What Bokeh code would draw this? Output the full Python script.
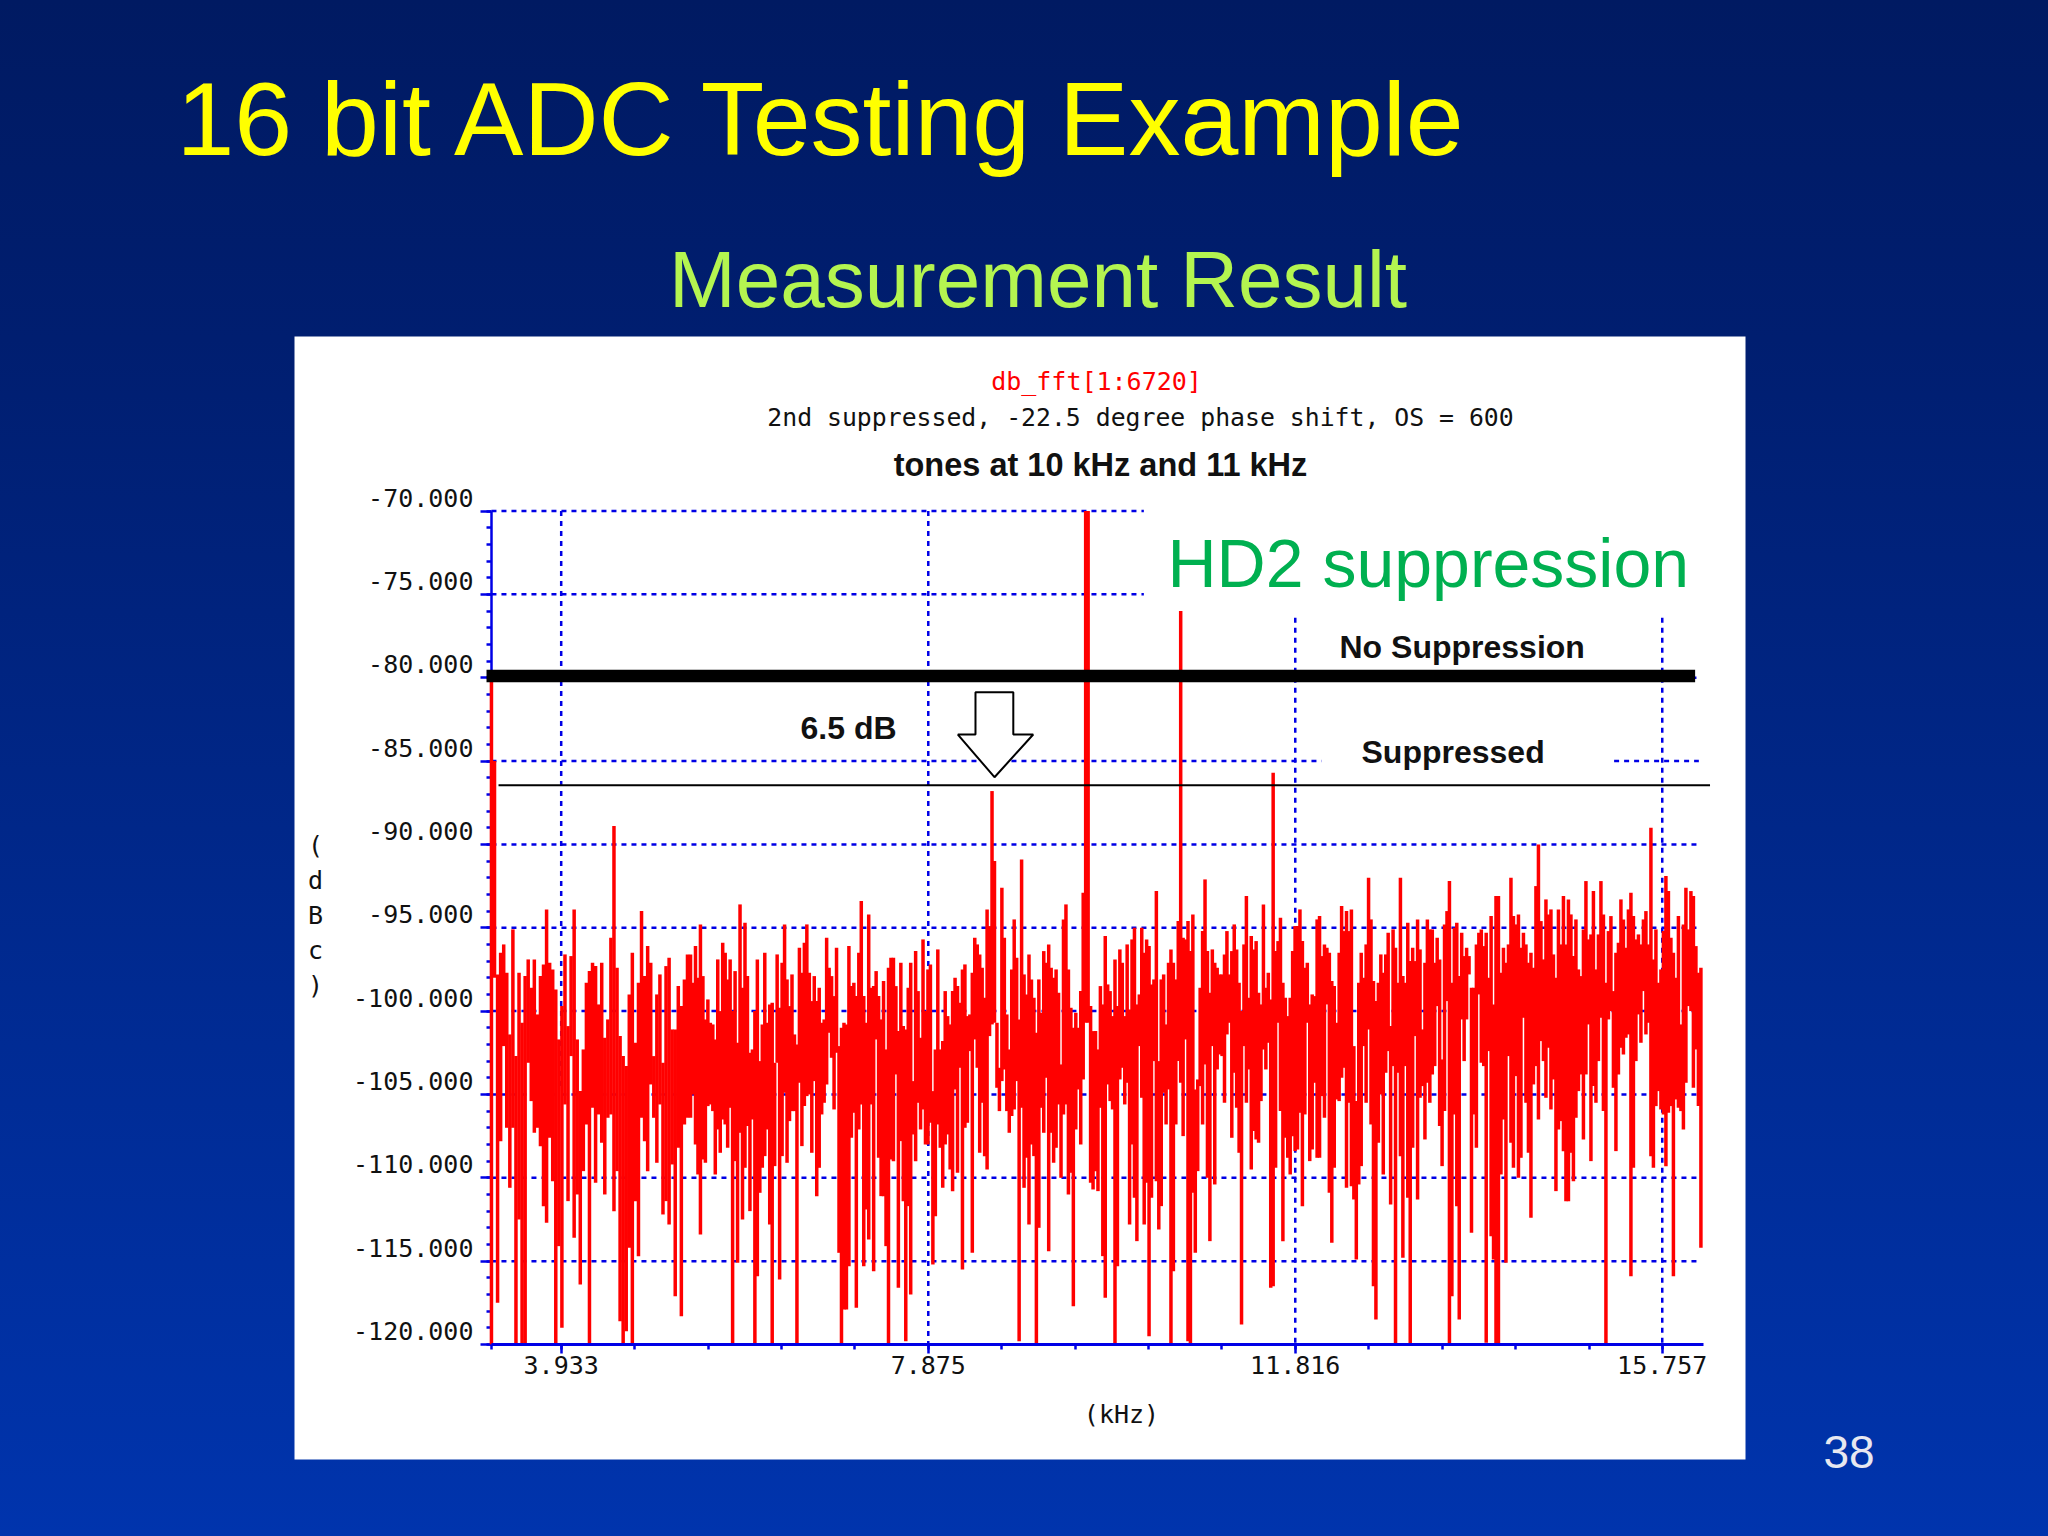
from bokeh.embed import file_html
from bokeh.resources import INLINE
from bokeh.plotting import figure
from bokeh.models import LinearAxis, FixedTicker, Label, Range1d

# ---- text ----
title_text = "16 bit ADC Testing Example"
subtitle_text = "Measurement Result"
page_number = "38"
chart_title = "db_fft[1:6720]"
chart_sub = "2nd suppressed, -22.5 degree phase shift, OS = 600"
chart_tones = "tones at 10 kHz and 11 kHz"
note_hd2 = "HD2 suppression"
note_none = "No Suppression"
note_supp = "Suppressed"
note_db = "6.5 dB"

# ---- axes ----
y_major = [-70, -75, -80, -85, -90, -95, -100, -105, -110, -115, -120]
y_labels = ["-70.000", "-75.000", "-80.000", "-85.000", "-90.000", "-95.000",
            "-100.000", "-105.000", "-110.000", "-115.000", "-120.000"]
x_major = [3.933, 7.875, 11.816, 15.757]
x_labels = ["3.933", "7.875", "11.816", "15.757"]
x_start, x_end = 3.184, 16.199

# ---- spectrum: per slice, upper and lower trace excursions (dB) ----
seg_edges = [3.184, 5.322, 7.501, 9.671, 11.840, 13.998, 16.199]
seg1_top = [-80.0,-85,-97.8,-96.5,-96.0,-97.7,-101.4,-95.1,-102.7,-97.7,-100.7,-97.9,-96.9,-98.6,-96.9,-100.2,-97.9,-97.2,-93.9,-97.1,-97.5,-98.7,-101.7,-99.7,-96.6,-100.9,-96.7,-93.9,-101.7,-104.8,-102.3,-98.3,-97.6,-97.1,-97.3,-99.6,-97.1,-101.6,-100.5,-95.6,-88.9,-97.4,-101.5,-102.7,-103.3,-99,-96.5,-101.9,-98.3,-94,-97.9,-96.1,-97.1,-102.7,-99,-97.8,-103.1,-97.3,-96.8,-101.1,-101.1,-98.5,-99.7,-98.1,-96.6]
seg1_bot = [-120,-98,-117.5,-107.8,-102.1,-107,-110.6,-107,-120,-112.5,-120,-120,-103.1,-105.4,-107.3,-107,-108.1,-111.7,-112.7,-107.6,-110.2,-120,-114.1,-119,-105.6,-111.4,-102.7,-113.6,-111,-116.4,-109.6,-106.8,-120,-105.8,-110.3,-106.2,-107.9,-111,-106.4,-106.2,-112,-109.6,-118.6,-120,-119.2,-114.2,-120,-111.4,-114.7,-106.4,-107.8,-109.6,-104.4,-106.4,-109.1,-105.6,-112.2,-111.4,-112.8,-109.2,-117.1,-108.2,-118.3,-106.8,-106.4]
seg2_top = [-96.6,-98.3,-96.1,-98,-94.8,-97.9,-100.5,-99.3,-100.7,-100.8,-101.7,-96.9,-100,-95.9,-96.5,-98.1,-96.9,-100,-97.6,-101.9,-93.6,-98.6,-94.7,-97.9,-102.5,-102.3,-100,-96.9,-103,-100.8,-96.5,-100.7,-99.6,-99.5,-103.1,-96.6,-99.8,-97.1,-94.8,-98.1,-99.7,-97.8,-101.4,-102,-96.2,-97.7,-95.9,-94.8,-97.7,-99.4,-97.9,-99.4,-98.6,-100.7,-100.5,-95.6,-97.4,-97.9,-99.1,-96.2,-102.1,-101,-100.7,-100.8,-96.1,-98.5,-98.3,-99.1,-96.5,-93.4,-99.1,-100.7,-94.2,-98.6,-98.5,-97.6,-99.1,-100.5,-98.2,-102.3,-97.4,-96.8]
seg2_bot = [-106.4,-105,-108,-109.8,-113.4,-108.9,-109.1,-105.7,-105.6,-106,-109.8,-107.1,-108.5,-106.5,-106.8,-108.2,-105.8,-120,-109,-115.1,-107.3,-112.5,-109.4,-106.9,-112,-106.5,-120,-115.9,-110.9,-109.4,-108.7,-107.1,-112.8,-120,-109.3,-103.1,-116.1,-108.7,-104.9,-109.1,-106.6,-106,-106,-120,-104.3,-108.1,-105.7,-105.1,-105,-108.5,-104.2,-111.1,-109.4,-106.2,-105.5,-104.4,-101.3,-102.8,-105.9,-102.5,-114.5,-120,-117.9,-117.9,-115.3,-107.6,-106.1,-117.8,-107.1,-105.6,-115.3,-111.9,-113.7,-105.6,-115.6,-101.7,-108.8,-111.1,-111.1,-114.1,-120,-108.9]
seg3_top = [-96.8,-98.5,-101.2,-97.1,-100.9,-101.1,-98.6,-97.1,-104.2,-96.4,-98.8,-101.6,-95.7,-100,-97.5,-97.2,-104.8,-102.3,-96.3,-102.3,-101.8,-98.8,-100.3,-100.8,-98.8,-98,-98.5,-99.5,-97.5,-97.2,-100.3,-100.2,-97.7,-95.6,-96,-96.6,-97.4,-99.2,-93.9,-94.9,-86.8,-91,-100.7,-103.4,-92.6,-95.6,-100.2,-102.3,-97.5,-94.5,-96.8,-100.5,-90.9,-97.8,-99,-96.6,-98.1,-99.2,-101.3,-98.1,-100.1,-96.4,-97.1,-96,-97.4,-98,-97.5,-98.9,-103.2,-94.5,-93.6,-97.5,-99.8,-101,-100.1,-101,-98.8,-92.9,-70,-70,-99.7,-101.2]
seg3_bot = [-109,-103.8,-116.6,-107.8,-111.4,-119.8,-111.7,-117,-107.4,-109,-105.5,-107.1,-105.9,-108,-108,-106.7,-115.2,-112.3,-106.8,-108.2,-110.6,-108,-107.4,-109.5,-110.8,-104.7,-109.7,-103.4,-115.5,-107,-106.7,-102.4,-114.5,-101.7,-103.4,-108.5,-105.5,-108.7,-109.5,-101.5,-100.8,-100.7,-104.6,-106,-104.2,-103.5,-106,-107.3,-106.3,-105.9,-104.2,-119.8,-105.8,-110.6,-108.8,-112.8,-108,-108.7,-120,-113,-105.8,-107.3,-104,-114.4,-107.3,-109.1,-108.2,-105.6,-110,-106.2,-105.6,-111,-109.7,-117.7,-107.1,-104.7,-108,-104.1,-100.7,-100.7,-110.3,-110.7]
seg4_top = [-101.2,-102.3,-98.5,-99.6,-95.5,-98.4,-98.8,-100.3,-96.9,-99.7,-96.3,-97.1,-100.3,-96,-99.9,-95.7,-95,-99.6,-99,-95,-96.5,-95.7,-96.1,-98.4,-98.1,-92.8,-103,-98.1,-97.8,-100.8,-97.1,-96.3,-97.1,-98.1,-94.6,-76,-95.6,-95.7,-94.6,-96.4,-94.2,-104.7,-104.1,-98.6,-95.2,-92.1,-96.4,-98.9,-96.3,-97.1,-97.4,-97.8,-97.8,-96.6,-95.2,-97.8,-96.4,-94.8,-96.3,-98.3,-100,-96,-93.1,-99.2,-95.5,-96.3,-95.8,-98.9,-99.6,-93.6,-98.6,-97.7,-99.3,-85.7,-96.4,-95.8,-94.4,-98.3,-99.2,-100.3,-99.2,-96.4,-94.9]
seg4_bot = [-109.6,-110.8,-105.8,-114.7,-117.2,-104.4,-105.4,-105.9,-120,-115.3,-104.1,-103.4,-105.6,-104.3,-112.8,-108,-111.2,-113.8,-102.1,-105.2,-112.8,-110.3,-119.5,-111.2,-103,-110.2,-113.1,-111.7,-104.9,-106.8,-104.7,-120,-115.6,-106.8,-103,-104.3,-107.5,-101.7,-119.8,-120,-110.9,-114.5,-109.6,-104.5,-106.8,-103.2,-110,-113.8,-102.1,-110.4,-103.5,-102.6,-102.7,-105.5,-101.4,-100.7,-107.6,-103.7,-105.8,-108.5,-118.8,-102.1,-105.5,-103.5,-109.5,-107.2,-107.7,-107.9,-105.4,-102.3,-103.5,-101.9,-116.6,-116.5,-109.4,-100.7,-106,-113.8,-107.6,-108.8,-109.8,-107.5,-108.4]
seg5_top = [-94.9,-93.9,-95.8,-97.4,-97.1,-99.6,-99,-99.1,-94.5,-94.3,-96.7,-96,-96.2,-96.5,-98.2,-98.5,-100.7,-96.5,-93.7,-95.2,-94,-95.2,-93.9,-102.1,-105.4,-98.3,-96.5,-98,-96,-92,-94.5,-98.2,-99.4,-98.3,-96.6,-97.7,-96.6,-95.3,-100.9,-95.1,-96.2,-98.3,-92,-97.9,-98.3,-94.7,-97,-96.2,-97,-94.5,-96.3,-101.1,-97.1,-94.5,-95.1,-95.1,-97.1,-95.6,-96.9,-102.9,-94.8,-94,-92.2,-98.3,-95,-94.7,-97.9,-95.3,-96.7,-96.2,-96.7,-98.6,-98.6,-96,-95.3,-95.1,-96.1,-95.3,-98,-94.3,-99.6,-93.1]
seg5_bot = [-108.3,-106.1,-111.7,-106.2,-100.7,-109,-108.3,-104.3,-108.8,-108.8,-105.1,-106.4,-99.6,-110.9,-113.9,-109.4,-105.3,-105.4,-104,-103.4,-110.6,-105.5,-110.5,-111.3,-114.9,-110.4,-109.3,-102.1,-105.5,-101.1,-106.8,-116.5,-118.5,-107.9,-105,-109.8,-103.7,-102.4,-111.6,-103.3,-120,-103.7,-108.7,-114.8,-103.3,-111.2,-120,-108.2,-101.5,-111.3,-105.2,-104.5,-107.7,-104.3,-105.5,-103.8,-103.3,-99.7,-106.9,-109.3,-106,-99.4,-120,-117.1,-106.2,-111.7,-118.5,-100.5,-103,-100.5,-97.8,-113.3,-106.2,-108.2,-99,-103.1,-103.3,-119.9,-102.4,-113.5,-114.9,-120]
seg6_top = [-93.1,-97.7,-96.2,-97.1,-96,-92,-94.3,-94.8,-94.2,-96.2,-95.3,-96,-97.1,-96.5,-97.4,-92.5,-90,-94.6,-96.9,-93.3,-94.2,-93.9,-96.6,-98,-93.9,-96,-93.1,-96,-93.3,-94.2,-96.7,-94.5,-97.5,-97.9,-95.1,-92.2,-95.7,-95.4,-92.8,-97.5,-95.4,-92.2,-94.2,-98.3,-95.2,-94.3,-98.8,-96.5,-95.9,-93.3,-94.5,-96.2,-93.9,-92.9,-94.3,-95.7,-95.4,-96,-94.5,-94,-96,-89,-96.9,-95.1,-98.3,-97.5,-95.2,-91.9,-92.8,-95.6,-96.5,-98,-94.3,-100.8,-94.8,-92.6,-95.1,-92.8,-93.1,-96.1,-97.7,-97.4,-97.5]
seg6_bot = [-120,-109.8,-106.5,-115.1,-102.7,-107.9,-109.4,-103.9,-110,-108.8,-100.4,-105.5,-108.5,-112.4,-104.4,-103.3,-106.5,-101.8,-103,-105.2,-102.2,-105.9,-104.1,-110.8,-107.1,-106.6,-108.4,-111.4,-111.4,-108.5,-110.2,-106.4,-104.8,-103.8,-107.7,-103.8,-100.8,-109,-104.5,-105.5,-103,-100.4,-106,-120,-100.5,-100,-104.6,-108.4,-103.8,-102.2,-102.6,-101.6,-101.4,-115.9,-109.4,-103,-100.2,-101.9,-98.8,-101.4,-100.7,-108.7,-109.4,-105.7,-104.8,-105.9,-106.2,-109.3,-106.1,-105.7,-115.9,-105.3,-105.8,-106,-107.1,-104.3,-99.7,-100,-104.6,-102.3,-105.7,-114.2]

# ---- reference levels and annotation arrow ----
level_none_db = -79.9
level_supp_db = -86.45
level_none_khz = [3.131, 16.11]
level_supp_khz = [3.26, 16.27]
arrow_khz = [8.382, 8.788, 8.788, 9.002, 8.586, 8.193, 8.382]
arrow_db = [-80.87, -80.87, -83.41, -83.41, -85.97, -83.41, -83.41]

# ---- dotted grid pieces: kHz and dB ends ----
grid_h_db = [-70, -75, -80, -85, -85, -90, -95, -100, -105, -110, -115]
grid_h_from = [3.184, 3.184, 3.184, 3.184, 15.24, 3.184, 3.184, 3.184, 3.184, 3.184, 3.184]
grid_h_to = [10.19, 10.19, 16.15, 12.10, 16.15, 16.15, 16.15, 16.15, 16.15, 16.15, 16.15]
grid_v_khz = [3.933, 7.875, 11.816, 15.757]
grid_v_from = [-70, -70, -76.4, -76.4]
grid_v_to = [-104.5, -120, -120, -120]

# ---- layout: reference pixels of the axes ----
PX_PER_KHZ, KHZ_PX0 = 93.12, 560.7     # 3.933 kHz
PX_PER_DB, DB_PX0 = 16.67, 510.5       # -70 dB
def fx(px): return 3.933 + (px - KHZ_PX0) / PX_PER_KHZ
def fy(py): return -70 - (py - DB_PX0) / PX_PER_DB

W, H = 2032, 1520
PANEL = (294, 1745, 336, 1459)
BLUE = "#0000e6"
RED = "#ff0000"
INK = "#111111"
TICK_FONT = "DejaVu Sans Mono"
TICK_SIZE = "25px"

p = figure(width=W, height=H, output_backend="svg", toolbar_location=None,
           x_axis_type=None, y_axis_type=None,
           x_range=Range1d(fx(0), fx(W)), y_range=Range1d(fy(H), fy(0)),
           min_border=0, background_fill_color=None, border_fill_color=None, outline_line_color=None)

# white chart panel
p.quad(left=fx(PANEL[0]), right=fx(PANEL[1]), bottom=fy(PANEL[3]), top=fy(PANEL[2]),
       fill_color="#ffffff", line_color=None, level="image")

# grid
for i in range(len(grid_h_db)):
    p.line([grid_h_from[i], grid_h_to[i]], [grid_h_db[i], grid_h_db[i]], line_color=BLUE, line_width=2.5, line_dash=[5, 5])
for i in range(len(grid_v_khz)):
    p.line([grid_v_khz[i], grid_v_khz[i]], [grid_v_from[i], grid_v_to[i]], line_color=BLUE, line_width=2.5, line_dash=[5, 5])

# trace: one vertical excursion per slice column
xs, tops_all, bots_all = [], [], []
segs = [(seg1_top, seg1_bot), (seg2_top, seg2_bot), (seg3_top, seg3_bot),
        (seg4_top, seg4_bot), (seg5_top, seg5_bot), (seg6_top, seg6_bot)]
for k, (tops, bots) in enumerate(segs):
    pairs = list(zip(tops, bots))
    step = (seg_edges[k + 1] - seg_edges[k]) / len(pairs)
    for i, (t, b) in enumerate(pairs):
        xs.append(seg_edges[k] + i * step)
        tops_all.append(t)
        bots_all.append(b)
p.segment(xs, tops_all, xs, bots_all, line_color=RED, line_width=3.5, line_cap="butt")

# levels
p.line(level_none_khz, [level_none_db] * 2, line_color="#000000", line_width=12.5, line_cap="butt")
p.line(level_supp_khz, [level_supp_db] * 2, line_color="#000000", line_width=2)
p.patch(arrow_khz, arrow_db, fill_color="#ffffff", line_color="#000000", line_width=2)

# axes: the y scale uses unlabelled tick rows, its labels sit just above each tick as in the original
y_minor = [v for v in range(-120, -69)]
y_axis_minor = LinearAxis(fixed_location=x_start, bounds=(-120, -70), ticker=FixedTicker(ticks=[], minor_ticks=y_minor),
                          axis_line_color=BLUE, axis_line_width=2.5,
                          minor_tick_line_color=BLUE, minor_tick_line_width=2.5, minor_tick_in=0, minor_tick_out=5, level="underlay")
p.add_layout(y_axis_minor, "left")
y_axis_major = LinearAxis(fixed_location=x_start, bounds=(-120, -70), ticker=FixedTicker(ticks=[], minor_ticks=y_major),
                          axis_line_color=None,
                          minor_tick_line_color=BLUE, minor_tick_line_width=2.5, minor_tick_in=0, minor_tick_out=11, level="underlay")
p.add_layout(y_axis_major, "left")
LABEL_SHIFT_DB = 0.8
shifted = [round(v + LABEL_SHIFT_DB, 3) for v in y_major]
y_text_axis = LinearAxis(fixed_location=x_start, ticker=FixedTicker(ticks=shifted),
                         major_label_overrides=dict(zip(shifted, y_labels)),
                         axis_line_color=None, major_tick_line_color=None, minor_tick_line_color=None,
                         major_tick_in=0, major_tick_out=0, major_label_standoff=18,
                         major_label_text_font=TICK_FONT, major_label_text_font_size=TICK_SIZE,
                         major_label_text_color=INK)
p.add_layout(y_text_axis, "left")
x_step = (x_major[1] - x_major[0]) / 5
x_minor = [x_start] + [round(x_major[0] + i * x_step, 3) for i in range(0, 16)] + [x_major[-1]]
x_axis = LinearAxis(fixed_location=-120, bounds=(x_start, x_end), ticker=FixedTicker(ticks=x_major, minor_ticks=x_minor),
                    major_label_overrides=dict(zip(x_major, x_labels)), axis_line_color=BLUE, axis_line_width=3,
                    major_tick_line_color=BLUE, major_tick_line_width=2.5, major_tick_in=0, major_tick_out=9,
                    minor_tick_line_color=BLUE, minor_tick_line_width=2.5, minor_tick_in=0, minor_tick_out=5,
                    major_label_standoff=2, major_label_text_font=TICK_FONT, major_label_text_font_size=TICK_SIZE,
                    major_label_text_color=INK)
p.add_layout(x_axis, "below")

def add_text(text, px, py, size, color, font="Liberation Sans", align="left", base="alphabetic", style="normal", **kw):
    shift = 0.35 * size if base == "alphabetic" else 0
    p.add_layout(Label(x=fx(px), y=fy(py - shift), text=text, text_font=font, text_font_size=f"{size}px",
                       text_color=color, text_align=align, text_baseline=base, text_font_style=style, **kw))

add_text(title_text, 176, 155, 104, "#ffff00")
add_text(subtitle_text, 668.5, 307, 80, "#b4f550")
add_text(page_number, 1823, 1468, 46, "#e8e8f0")
add_text(note_hd2, 1167, 586, 68, "#00b050")
add_text(chart_title, 1096, 381, 25, "#ff0000", font=TICK_FONT, align="center", base="middle")
add_text(chart_sub, 1140, 417, 24.8, INK, font=TICK_FONT, align="center", base="middle")
add_text(chart_tones, 1100, 476, 32.5, INK, style="bold", align="center")
add_text(note_none, 1339, 658, 32, INK, style="bold")
add_text(note_supp, 1361, 763, 32, INK, style="bold")
add_text(note_db, 800, 739, 32, INK, style="bold")
add_text("(kHz)", 1121, 1414, 25, INK, font=TICK_FONT, align="center", base="middle")
add_text("(\nd\nB\nc\n)", 315, 915, 25, INK, font=TICK_FONT, align="center", base="middle", text_line_height=1.2)

html = file_html(p, INLINE)
page_css = ("<style>html{height:1536px;background:linear-gradient(180deg,#001a62 0%,#001e70 22%,#0034ad 100%) no-repeat;}"
            "body{background:transparent;}</style></head>")
html = html.replace("</head>", page_css, 1)
open("out.html", "w").write(html)
